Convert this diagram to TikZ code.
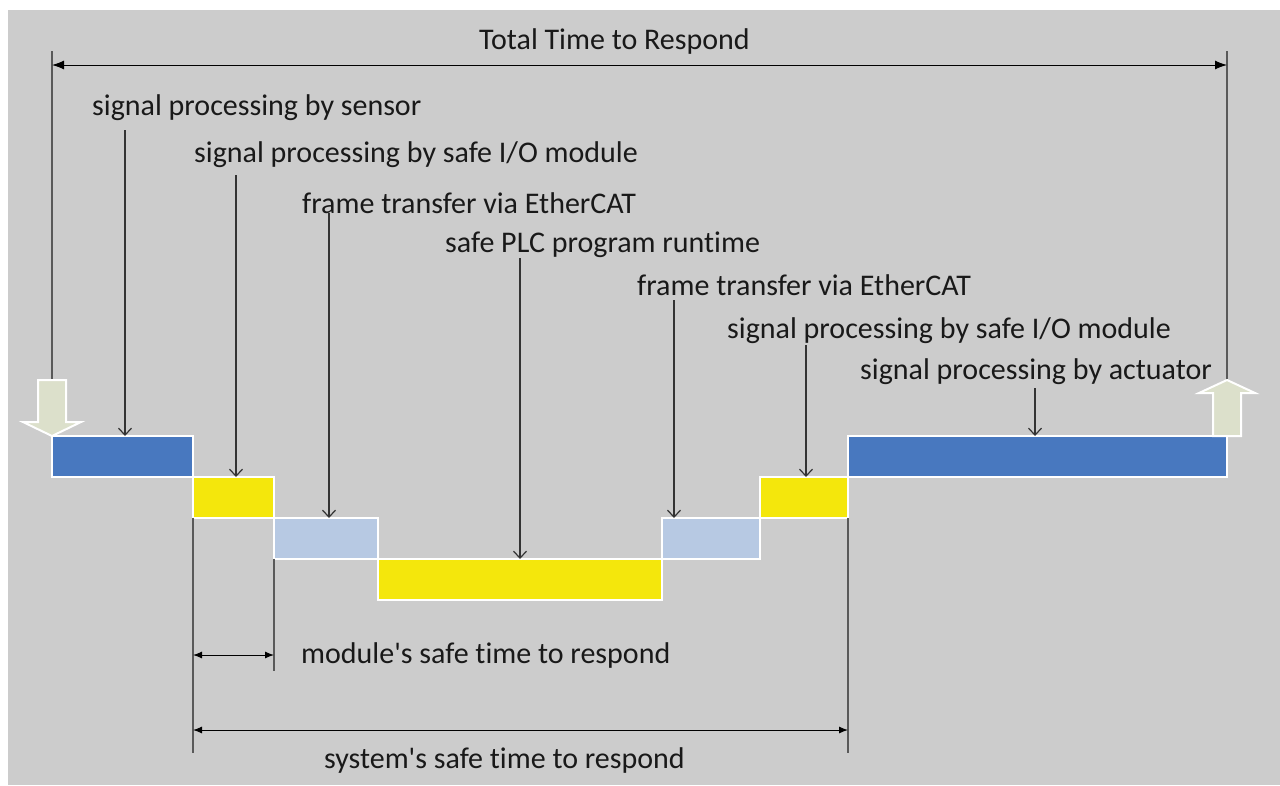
\documentclass[tikz,border=0pt]{standalone}
\usepackage{fontspec}
\setmainfont{Carlito}[Ligatures=NoCommon]
\usetikzlibrary{arrows.meta}

\definecolor{bggray}{HTML}{CCCCCC}
\definecolor{stepblue}{HTML}{4878BF}
\definecolor{stepyellow}{HTML}{F4E70C}
\definecolor{steplight}{HTML}{B7C9E3}
\definecolor{arrowfill}{HTML}{DCE0CB}

\tikzset{
  lbl/.style={font=\fontsize{30}{36}\selectfont, inner sep=0pt, anchor=west,
    text height=21pt, text depth=7pt, text=black!90},
  blk/.style={draw=white, line width=2pt, inner sep=0pt, outer sep=0pt,
    anchor=north west, minimum height=41pt},
  ptr/.style={draw=black!80, line width=1.2pt, -{Straight Barb[length=7pt,width=13pt]}},
  dimbig/.style={line width=1pt, {Latex[length=12pt,width=9pt]}-{Latex[length=12pt,width=9pt]}},
  dimsmall/.style={line width=1pt, {Latex[length=9pt,width=7pt]}-{Latex[length=9pt,width=7pt]}},
  extline/.style={draw=black!65, line width=1.5pt},
  blkarrow/.style={fill=arrowfill, draw=white, line width=2pt, line join=miter}
}

\begin{document}
\begin{tikzpicture}[x=1pt,y=-1pt]
\useasboundingbox (0,0) rectangle (1280,785);
\fill[white] (0,0) rectangle (1280,785);
\fill[bggray] (8,10) rectangle (1280,785);

% Steps
\node[blk, fill=stepblue, minimum width=141pt] (bSensor) at (52,436) {};
\node[blk, fill=stepyellow, minimum width=81pt] (bIO) at (193,477) {};
\node[blk, fill=steplight, minimum width=104pt] (bFrameA) at (274,518) {};
\node[blk, fill=stepyellow, minimum width=284pt] (bPLC) at (378,559) {};
\node[blk, fill=steplight, minimum width=98pt] (bFrameB) at (662,518) {};
\node[blk, fill=stepyellow, minimum width=88pt] (bIOb) at (760,477) {};
\node[blk, fill=stepblue, minimum width=379pt] (bActuator) at (848,436) {};

% Labels
\node[lbl] (lTotal) at (479,42) {Total Time to Respond};
\node[lbl] (lSensor) at (92,108) {signal processing by sensor};
\node[lbl] (lIO) at (194,155) {signal processing by safe I/O module};
\node[lbl] (lFrameA) at (302,206) {frame transfer via EtherCAT};
\node[lbl] (lPLC) at (445,245) {safe PLC program runtime};
\node[lbl] (lFrameB) at (637,288) {frame transfer via EtherCAT};
\node[lbl] (lIOb) at (727,331) {signal processing by safe I/O module};
\node[lbl] (lActuator) at (860,372) {signal processing by actuator};
\node[lbl] (lModule) at (301,656) {module\textquotesingle s safe time to respond};
\node[lbl] (lSystem) at (324,761) {system\textquotesingle s safe time to respond};

% Pointers
\coordinate (pSensor) at (125,130);
\coordinate (pIO) at (236,175);
\coordinate (pFrameA) at (329,213);
\coordinate (pPLC) at (520,258);
\coordinate (pFrameB) at (674,300);
\coordinate (pIOb) at (806,345);
\coordinate (pActuator) at (1035,388);
\draw[ptr] (pSensor) -- (pSensor |- bSensor.north);
\draw[ptr] (pIO) -- (pIO |- bIO.north);
\draw[ptr] (pFrameA) -- (pFrameA |- bFrameA.north);
\draw[ptr] (pPLC) -- (pPLC |- bPLC.north);
\draw[ptr] (pFrameB) -- (pFrameB |- bFrameB.north);
\draw[ptr] (pIOb) -- (pIOb |- bIOb.north);
\draw[ptr] (pActuator) -- (pActuator |- bActuator.north);

% Total time
\coordinate (totL) at (52,51);
\coordinate (totR) at (1227,51);
\draw[extline] (totL) -- ++(0,329);
\draw[extline] (totR) -- ++(0,329);
\draw[dimbig] ([yshift=-14pt]totL) -- ([yshift=-14pt]totR);

% In and out arrows
\draw[blkarrow] (bSensor.north west) -- ++(-29,-14) -- ++(15,0) -- ++(0,-42)
  -- ++(28,0) -- ++(0,42) -- ++(15,0) -- cycle;
\draw[blkarrow] (bActuator.north east) ++(-14,0) -- ++(0,-43) -- ++(-14,0)
  -- ++(28,-13) -- ++(28,13) -- ++(-14,0) -- ++(0,43) -- cycle;

% Safe times
\draw[extline] (bIO.south west) -- ++(0,235);
\draw[extline] (bFrameA.south west) -- ++(0,112);
\draw[extline] (bIOb.south east) -- ++(0,235);
\draw[dimsmall] (bIO.south west |- 0,655) -- (bFrameA.south west |- 0,655);
\draw[dimsmall] (bIO.south west |- 0,730) -- (bIOb.south east |- 0,730);
\end{tikzpicture}
\end{document}
